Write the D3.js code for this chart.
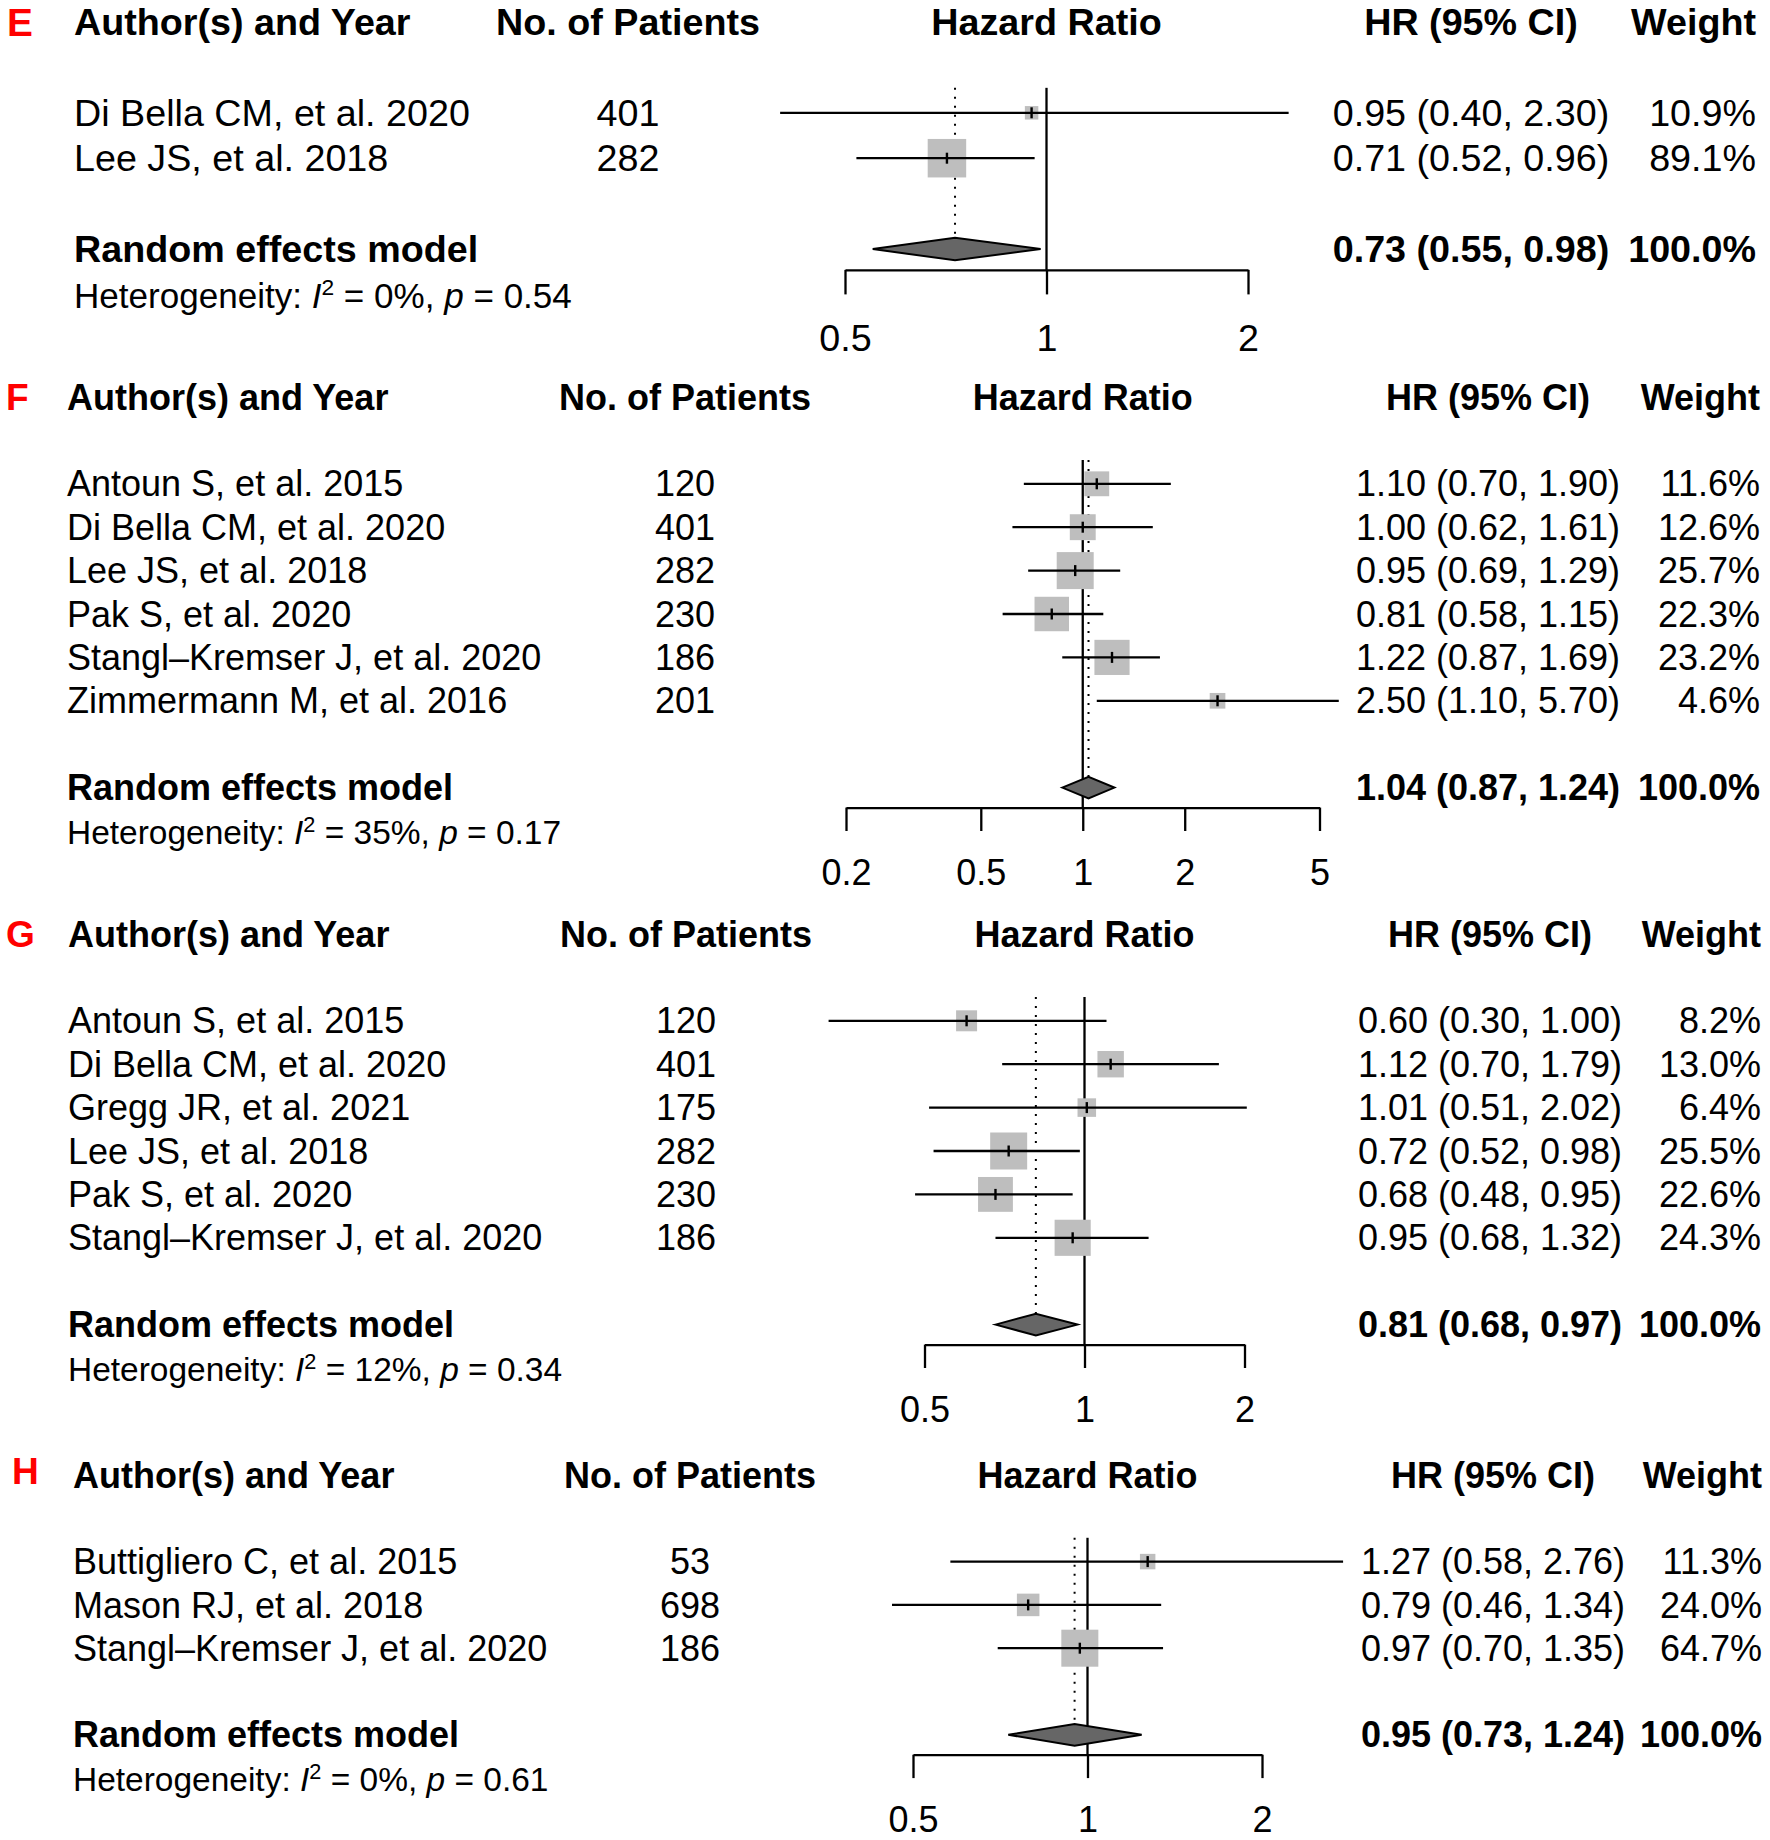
<!DOCTYPE html>
<html>
<head>
<meta charset="utf-8">
<script src="https://cdn.jsdelivr.net/npm/d3@7"></script>
<style>
  html, body { margin: 0; padding: 0; background: #ffffff; }
  svg { display: block; font-family: "Liberation Sans", Arial, Helvetica, sans-serif; }
</style>
</head>
<body>
<svg id="chart" width="1770" height="1840"></svg>
<script>
// ---------------- DATA ----------------
// Panel E
const studiesE = ["Di Bella CM, et al. 2020", "Lee JS, et al. 2018"];
const patientsE = [401, 282];
const hrE = [0.95, 0.71];
const loE = [0.40, 0.52];
const hiE = [2.30, 0.96];
const ciTextE = ["0.95 (0.40, 2.30)", "0.71 (0.52, 0.96)"];
const weightE = [10.9, 89.1];
const summaryE = [0.73, 0.55, 0.98];
const hetE = ["0%", "0.54"];
const ticksE = [0.5, 1, 2];

// Panel F
const studiesF = ["Antoun S, et al. 2015", "Di Bella CM, et al. 2020", "Lee JS, et al. 2018",
                  "Pak S, et al. 2020", "Stangl\u2013Kremser J, et al. 2020", "Zimmermann M, et al. 2016"];
const patientsF = [120, 401, 282, 230, 186, 201];
const hrF = [1.10, 1.00, 0.95, 0.81, 1.22, 2.50];
const loF = [0.67, 0.62, 0.69, 0.58, 0.87, 1.10];
const hiF = [1.82, 1.61, 1.29, 1.15, 1.69, 5.70];
const ciTextF = ["1.10 (0.70, 1.90)", "1.00 (0.62, 1.61)", "0.95 (0.69, 1.29)",
                 "0.81 (0.58, 1.15)", "1.22 (0.87, 1.69)", "2.50 (1.10, 5.70)"];
const weightF = [11.6, 12.6, 25.7, 22.3, 23.2, 4.6];
const summaryF = [1.04, 0.87, 1.24];
const hetF = ["35%", "0.17"];
const ticksF = [0.2, 0.5, 1, 2, 5];

// Panel G
const studiesG = ["Antoun S, et al. 2015", "Di Bella CM, et al. 2020", "Gregg JR, et al. 2021",
                  "Lee JS, et al. 2018", "Pak S, et al. 2020", "Stangl\u2013Kremser J, et al. 2020"];
const patientsG = [120, 401, 175, 282, 230, 186];
const hrG = [0.60, 1.12, 1.01, 0.72, 0.68, 0.95];
const loG = [0.33, 0.70, 0.51, 0.52, 0.48, 0.68];
const hiG = [1.10, 1.79, 2.02, 0.98, 0.95, 1.32];
const ciTextG = ["0.60 (0.30, 1.00)", "1.12 (0.70, 1.79)", "1.01 (0.51, 2.02)",
                 "0.72 (0.52, 0.98)", "0.68 (0.48, 0.95)", "0.95 (0.68, 1.32)"];
const weightG = [8.2, 13.0, 6.4, 25.5, 22.6, 24.3];
const summaryG = [0.81, 0.68, 0.97];
const hetG = ["12%", "0.34"];
const ticksG = [0.5, 1, 2];

// Panel H
const studiesH = ["Buttigliero C, et al. 2015", "Mason RJ, et al. 2018", "Stangl\u2013Kremser J, et al. 2020"];
const patientsH = [53, 698, 186];
const hrH = [1.27, 0.79, 0.97];
const loH = [0.58, 0.46, 0.70];
const hiH = [2.76, 1.34, 1.35];
const ciTextH = ["1.27 (0.58, 2.76)", "0.79 (0.46, 1.34)", "0.97 (0.70, 1.35)"];
const weightH = [11.3, 24.0, 64.7];
const summaryH = [0.95, 0.73, 1.24];
const hetH = ["0%", "0.61"];
const ticksH = [0.5, 1, 2];

const headers = ["Author(s) and Year", "No. of Patients", "Hazard Ratio", "HR (95% CI)", "Weight"];
const summaryLabel = "Random effects model";

// ---------------- LAYOUT ----------------
const layouts = {
  E: { headerY: 22, unit: 45.4, fs: 37.7, letterX: 7, letterY: 22, authorX: 74, patientsX: 628,
       axisRange: [845, 1248], hrX: 1471, weightX: 1756, maxSide: 38.5 },
  F: { headerY: 397, unit: 43.4, fs: 36, letterX: 6, letterY: 397, authorX: 67, patientsX: 685,
       axisRange: [846, 1319.5], hrX: 1488, weightX: 1760, maxSide: 37 },
  G: { headerY: 934, unit: 43.4, fs: 36, letterX: 6, letterY: 934, authorX: 68, patientsX: 686,
       axisRange: [924.5, 1244.5], hrX: 1490, weightX: 1761, maxSide: 37 },
  H: { headerY: 1475, unit: 43.3, fs: 36, letterX: 12, letterY: 1471, authorX: 73, patientsX: 690,
       axisRange: [913, 1262], hrX: 1493, weightX: 1762, maxSide: 37 }
};

const panels = [
  { label: "E", studies: studiesE, patients: patientsE, hr: hrE, lo: loE, hi: hiE, ciText: ciTextE, weight: weightE, summary: summaryE, het: hetE, ticks: ticksE },
  { label: "F", studies: studiesF, patients: patientsF, hr: hrF, lo: loF, hi: hiF, ciText: ciTextF, weight: weightF, summary: summaryF, het: hetF, ticks: ticksF },
  { label: "G", studies: studiesG, patients: patientsG, hr: hrG, lo: loG, hi: hiG, ciText: ciTextG, weight: weightG, summary: summaryG, het: hetG, ticks: ticksG },
  { label: "H", studies: studiesH, patients: patientsH, hr: hrH, lo: loH, hi: hiH, ciText: ciTextH, weight: weightH, summary: summaryH, het: hetH, ticks: ticksH }
];

// ---------------- DRAW ----------------
const svg = d3.select("#chart");
svg.append("rect").attr("width", 1770).attr("height", 1840).attr("fill", "#ffffff");

const fmt2 = d3.format(".2f");
const fmt1 = d3.format(".1f");
const LW = 2.3;

function drawPanel(d) {
  const L = layouts[d.label];
  const g = svg.append("g").attr("class", "panel-" + d.label);
  const n = d.studies.length;
  const y = d3.scaleLinear().domain([0, 1]).range([L.headerY, L.headerY + L.unit]);
  const x = d3.scaleLog().domain([d.ticks[0], d.ticks[d.ticks.length - 1]]).range(L.axisRange);
  const side = d3.scaleSqrt().domain([0, d3.max(d.weight)]).range([0, L.maxSide]);
  const rows = d.studies.map((s, i) => ({
    study: s, n: d.patients[i], hr: d.hr[i], lo: d.lo[i], hi: d.hi[i], ci: d.ciText[i], w: d.weight[i], idx: 2 + i
  }));
  const sumIdx = n + 3;
  const sumY = y(sumIdx);
  const axisY = y(sumIdx + 0.46);
  const tickLen = L.unit * 0.54;
  const topY = y(2 - 0.55);
  const dHalf = L.unit * 0.25;
  const fs = L.fs;

  // panel letter
  g.append("text")
    .attr("x", L.letterX).attr("y", L.letterY).attr("dy", "0.35em")
    .attr("fill", "#ff0000").attr("font-weight", "bold").attr("font-size", fs * 1.03)
    .text(d.label);

  // headers
  const hdrPos = [[L.authorX, "start"], [L.patientsX, "middle"], [x(1), "middle"], [L.hrX, "middle"], [L.weightX, "end"]];
  g.selectAll("text.hdr").data(headers).join("text")
    .attr("class", "hdr")
    .attr("x", (t, i) => hdrPos[i][0]).attr("y", y(0)).attr("dy", "0.35em")
    .attr("text-anchor", (t, i) => hdrPos[i][1])
    .attr("font-weight", "bold").attr("font-size", fs).attr("fill", "#000")
    .text(t => t);

  // reference line at 1
  g.append("line")
    .attr("x1", x(1)).attr("x2", x(1)).attr("y1", topY).attr("y2", axisY)
    .attr("stroke", "#000").attr("stroke-width", LW);

  // dotted line at summary estimate
  g.append("line")
    .attr("x1", x(d.summary[0])).attr("x2", x(d.summary[0]))
    .attr("y1", topY).attr("y2", sumY - dHalf)
    .attr("stroke", "#000").attr("stroke-width", 2).attr("stroke-dasharray", "2 7");

  // squares
  g.selectAll("rect.sq").data(rows).join("rect")
    .attr("class", "sq")
    .attr("x", r => x(r.hr) - side(r.w) / 2).attr("y", r => y(r.idx) - side(r.w) / 2)
    .attr("width", r => side(r.w)).attr("height", r => side(r.w))
    .attr("fill", "#bebebe");

  // CI lines
  g.selectAll("line.ci").data(rows).join("line")
    .attr("class", "ci")
    .attr("x1", r => x(r.lo)).attr("x2", r => x(r.hi))
    .attr("y1", r => y(r.idx)).attr("y2", r => y(r.idx))
    .attr("stroke", "#000").attr("stroke-width", LW);

  // estimate ticks
  g.selectAll("line.est").data(rows).join("line")
    .attr("class", "est")
    .attr("x1", r => x(r.hr)).attr("x2", r => x(r.hr))
    .attr("y1", r => y(r.idx) - 5.5).attr("y2", r => y(r.idx) + 5.5)
    .attr("stroke", "#000").attr("stroke-width", 2.4);

  // diamond
  const s = d.summary;
  g.append("path")
    .attr("d", d3.line()([[x(s[1]), sumY], [x(s[0]), sumY - dHalf], [x(s[2]), sumY], [x(s[0]), sumY + dHalf]]) + "Z")
    .attr("fill", "#666666").attr("stroke", "#000").attr("stroke-width", 2).attr("stroke-linejoin", "miter");

  // text columns
  g.selectAll("text.study").data(rows).join("text")
    .attr("class", "study")
    .attr("x", L.authorX).attr("y", r => y(r.idx)).attr("dy", "0.35em")
    .attr("font-size", fs).attr("fill", "#000").text(r => r.study);
  g.selectAll("text.npat").data(rows).join("text")
    .attr("class", "npat")
    .attr("x", L.patientsX).attr("y", r => y(r.idx)).attr("dy", "0.35em")
    .attr("text-anchor", "middle").attr("font-size", fs).attr("fill", "#000").text(r => r.n);
  g.selectAll("text.ci").data(rows).join("text")
    .attr("class", "ci")
    .attr("x", L.hrX).attr("y", r => y(r.idx)).attr("dy", "0.35em")
    .attr("text-anchor", "middle").attr("font-size", fs).attr("fill", "#000").text(r => r.ci);
  g.selectAll("text.wt").data(rows).join("text")
    .attr("class", "wt")
    .attr("x", L.weightX).attr("y", r => y(r.idx)).attr("dy", "0.35em")
    .attr("text-anchor", "end").attr("font-size", fs).attr("fill", "#000").text(r => fmt1(r.w) + "%");

  // summary row
  g.append("text").attr("x", L.authorX).attr("y", sumY).attr("dy", "0.35em")
    .attr("font-weight", "bold").attr("font-size", fs).text(summaryLabel);
  g.append("text").attr("x", L.hrX).attr("y", sumY).attr("dy", "0.35em").attr("text-anchor", "middle")
    .attr("font-weight", "bold").attr("font-size", fs)
    .text(fmt2(s[0]) + " (" + fmt2(s[1]) + ", " + fmt2(s[2]) + ")");
  g.append("text").attr("x", L.weightX).attr("y", sumY).attr("dy", "0.35em").attr("text-anchor", "end")
    .attr("font-weight", "bold").attr("font-size", fs).text(fmt1(d3.sum(d.weight)) + "%");

  // heterogeneity
  const hfs = fs * 0.93;
  const het = g.append("text").attr("x", L.authorX).attr("y", y(sumIdx + 1.03)).attr("dy", "0.35em")
    .attr("font-size", hfs).attr("fill", "#000");
  het.append("tspan").text("Heterogeneity: ");
  het.append("tspan").attr("font-style", "italic").text("I");
  het.append("tspan").attr("font-size", hfs * 0.65).attr("dy", -hfs * 0.36).text("2");
  het.append("tspan").attr("dy", hfs * 0.36).text(" = " + d.het[0] + ", ");
  het.append("tspan").attr("font-style", "italic").text("p");
  het.append("tspan").text(" = " + d.het[1]);

  // axis
  const axis = d3.axisBottom(x).tickValues(d.ticks).tickSize(tickLen).tickSizeOuter(0)
    .tickFormat(v => String(v));
  const ag = g.append("g").attr("transform", "translate(0," + axisY + ")").call(axis);
  ag.select(".domain").attr("stroke", "#000").attr("stroke-width", LW);
  ag.selectAll(".tick line").attr("stroke", "#000").attr("stroke-width", LW);
  ag.selectAll(".tick text")
    .attr("y", L.unit * 1.5).attr("dy", "0.35em")
    .attr("font-size", fs).attr("font-family", "Liberation Sans, Arial, sans-serif").attr("fill", "#000");
}

panels.forEach(drawPanel);
</script>
</body>
</html>
